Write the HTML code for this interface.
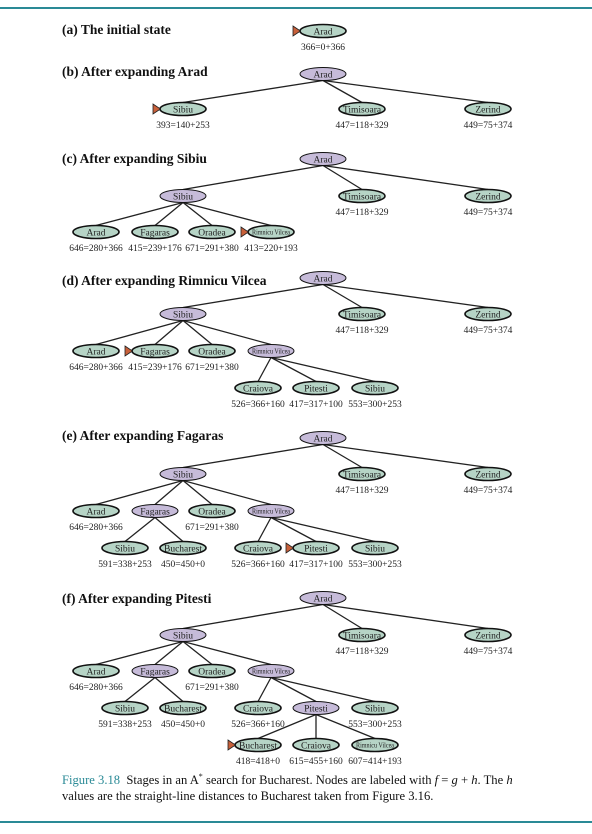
<!DOCTYPE html>
<html><head><meta charset="utf-8">
<style>
html,body{margin:0;padding:0;background:#fff;}
body{width:592px;height:834px;overflow:hidden;position:relative;}
svg{position:absolute;left:0;top:0;}
.t{font-family:"Liberation Serif",serif;font-weight:bold;font-size:13.5px;fill:#111;}
.n{font-family:"Liberation Serif",serif;font-size:9.5px;fill:#222;}
.l{font-family:"Liberation Serif",serif;font-size:9.5px;fill:#222;}
.cap{position:absolute;left:62px;font-family:"Liberation Serif",serif;font-size:12.6px;color:#111;white-space:nowrap;}
.cap b{color:#2a8a96;font-weight:normal;}
</style></head>
<body>
<svg id="fig" width="592" height="834"></svg>
<div class="cap" style="top:772px"><b>Figure 3.18</b>&nbsp; Stages in an A<sup style="font-size:8px">*</sup> search for Bucharest. Nodes are labeled with <i>f</i> = <i>g</i> + <i>h</i>. The <i>h</i></div>
<div class="cap" style="top:789px">values are the straight-line distances to Bucharest taken from Figure 3.16.</div>
<script>
const NS='http://www.w3.org/2000/svg';
const svg=document.getElementById('fig');
const GREEN='#b6d4c6', PURPLE='#c6bbd9';
// panel titles
const titles=[['(a) The initial state',30],['(b) After expanding Arad',72],['(c) After expanding Sibiu',159],['(d) After expanding Rimnicu Vilcea',281],['(e) After expanding Fagaras',436],['(f) After expanding Pitesti',599]];
// nodes: [id, name, x, y, expanded, label, marker, parent]
const panels=[
 [['a0','Arad',323,31,0,'366=0+366',1,null]],
 [['b0','Arad',323,74,1,'',0,null],['b1','Sibiu',183,109,0,'393=140+253',1,'b0'],['b2','Timisoara',362,109,0,'447=118+329',0,'b0'],['b3','Zerind',488,109,0,'449=75+374',0,'b0']],
 [['c0','Arad',323,159,1,'',0,null],['c1','Sibiu',183,196,1,'',0,'c0'],['c2','Timisoara',362,196,0,'447=118+329',0,'c0'],['c3','Zerind',488,196,0,'449=75+374',0,'c0'],
  ['c4','Arad',96,232,0,'646=280+366',0,'c1'],['c5','Fagaras',155,232,0,'415=239+176',0,'c1'],['c6','Oradea',212,232,0,'671=291+380',0,'c1'],['c7','Rimnicu Vilcea',271,232,0,'413=220+193',1,'c1']],
 [['d0','Arad',323,278,1,'',0,null],['d1','Sibiu',183,314,1,'',0,'d0'],['d2','Timisoara',362,314,0,'447=118+329',0,'d0'],['d3','Zerind',488,314,0,'449=75+374',0,'d0'],
  ['d4','Arad',96,351,0,'646=280+366',0,'d1'],['d5','Fagaras',155,351,0,'415=239+176',1,'d1'],['d6','Oradea',212,351,0,'671=291+380',0,'d1'],['d7','Rimnicu Vilcea',271,351,1,'',0,'d1'],
  ['d8','Craiova',258,388,0,'526=366+160',0,'d7'],['d9','Pitesti',316,388,0,'417=317+100',0,'d7'],['d10','Sibiu',375,388,0,'553=300+253',0,'d7']],
 [['e0','Arad',323,438,1,'',0,null],['e1','Sibiu',183,474,1,'',0,'e0'],['e2','Timisoara',362,474,0,'447=118+329',0,'e0'],['e3','Zerind',488,474,0,'449=75+374',0,'e0'],
  ['e4','Arad',96,511,0,'646=280+366',0,'e1'],['e5','Fagaras',155,511,1,'',0,'e1'],['e6','Oradea',212,511,0,'671=291+380',0,'e1'],['e7','Rimnicu Vilcea',271,511,1,'',0,'e1'],
  ['e8','Sibiu',125,548,0,'591=338+253',0,'e5'],['e9','Bucharest',183,548,0,'450=450+0',0,'e5'],
  ['e10','Craiova',258,548,0,'526=366+160',0,'e7'],['e11','Pitesti',316,548,0,'417=317+100',1,'e7'],['e12','Sibiu',375,548,0,'553=300+253',0,'e7']],
 [['f0','Arad',323,598,1,'',0,null],['f1','Sibiu',183,635,1,'',0,'f0'],['f2','Timisoara',362,635,0,'447=118+329',0,'f0'],['f3','Zerind',488,635,0,'449=75+374',0,'f0'],
  ['f4','Arad',96,671,0,'646=280+366',0,'f1'],['f5','Fagaras',155,671,1,'',0,'f1'],['f6','Oradea',212,671,0,'671=291+380',0,'f1'],['f7','Rimnicu Vilcea',271,671,1,'',0,'f1'],
  ['f8','Sibiu',125,708,0,'591=338+253',0,'f5'],['f9','Bucharest',183,708,0,'450=450+0',0,'f5'],
  ['f10','Craiova',258,708,0,'526=366+160',0,'f7'],['f11','Pitesti',316,708,1,'',0,'f7'],['f12','Sibiu',375,708,0,'553=300+253',0,'f7'],
  ['f13','Bucharest',258,745,0,'418=418+0',1,'f11'],['f14','Craiova',316,745,0,'615=455+160',0,'f11'],['f15','Rimnicu Vilcea',375,745,0,'607=414+193',0,'f11']]
];
function mk(tag,attrs,parent){const e=document.createElementNS(NS,tag);for(const k in attrs)e.setAttribute(k,attrs[k]);(parent||svg).appendChild(e);return e;}
function slug(s){return s.toLowerCase().replace(/[^a-z0-9]+/g,'-').replace(/^-|-$/g,'');}
// rules
let r1=mk('rect',{x:0,y:7,width:592,height:2,fill:'#2a8a96'});


let r2=mk('rect',{x:0,y:821,width:592,height:2,fill:'#2a8a96'});


titles.forEach(([txt,y])=>{
  const t=mk('text',{x:62,y:y+4,class:'t'});t.textContent=txt;
  
  
});
const RX=23,RY=6.5;
panels.forEach((nodes,pi)=>{
  const g=mk('g',{});
  
  
  const byId={};nodes.forEach(n=>byId[n[0]]=n);
  nodes.forEach(n=>{if(n[7]){const p=byId[n[7]];
    const ln=mk('line',{x1:p[2],y1:p[3]+RY,x2:n[2],y2:n[3]-RY,stroke:'#222','stroke-width':1.3},g);
    
    }});
  nodes.forEach(n=>{
    const [id,name,x,y,exp,lab,mark]=n;
    const ng=mk('g',{},g);
    
    
    mk('ellipse',{cx:x,cy:y,rx:RX,ry:RY,fill:exp?PURPLE:GREEN,stroke:'#111','stroke-width':exp?1:1.6},ng);
    const rv=name==='Rimnicu Vilcea';
    const t=mk('text',{x:x,y:y+3.3,'text-anchor':'middle',class:'n'},ng);
    if(rv){t.setAttribute('textLength','38');t.setAttribute('lengthAdjust','spacingAndGlyphs');t.style.fontSize='7.5px';t.setAttribute('y',y+2.6);}
    t.textContent=name;
    if(mark){const m=mk('polygon',{points:`${x-RX-7},${y-5} ${x-RX+0.5},${y} ${x-RX-7},${y+5}`,fill:'#c8603a',stroke:'#222','stroke-width':0.8},ng);
      
      }
    if(lab){const l=mk('text',{x:x,y:y+19,'text-anchor':'middle',class:'l'},g);l.textContent=lab;
      
      }
  });
});
</script>
</body></html>
